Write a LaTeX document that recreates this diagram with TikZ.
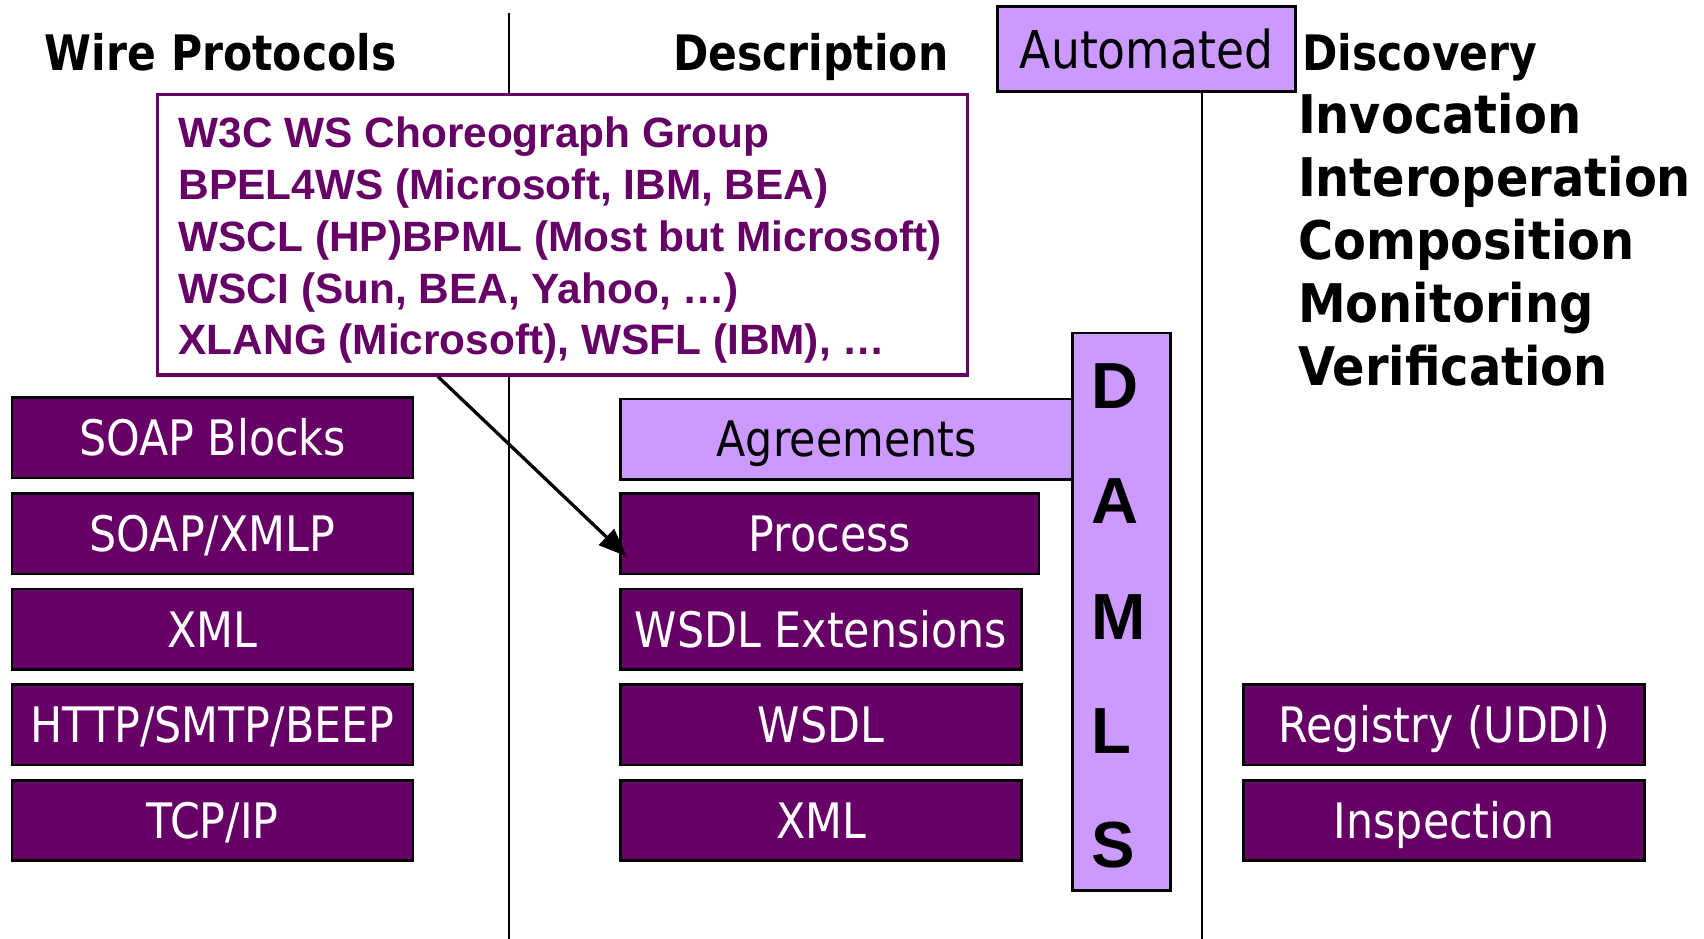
\documentclass[tikz,border=0pt]{standalone}
\usepackage{fontspec}
\setmainfont{Liberation Sans}
\newfontfamily\boxfont[FakeStretch=0.875]{DejaVu Sans}
\newfontfamily\headfont[FakeStretch=0.87]{DejaVu Sans}
\newfontfamily\bigheadfont[FakeStretch=0.9]{DejaVu Sans}
\usetikzlibrary{arrows.meta}
\definecolor{plum}{HTML}{660066}
\definecolor{lilac}{HTML}{CC99FF}
\tikzset{
  layer/.style={draw=black, line width=1.2pt, fill=plum, text=white, inner sep=0pt,
    font=\boxfont\fontsize{22.5pt}{27pt}\selectfont,
    minimum width=184.5pt, minimum height=37pt, text height=16.4pt, text depth=0pt},
  lilacbox/.style={layer, fill=lilac, text=black},
  head/.style={anchor=base west, inner sep=0pt, font=\headfont\bfseries\fontsize{22.5pt}{27pt}\selectfont},
  bighead/.style={head, font=\bigheadfont\bfseries\fontsize{24.5pt}{29pt}\selectfont},
  chor/.style={anchor=base west, inner sep=0pt, text=plum, font=\bfseries\fontsize{19.5pt}{23pt}\selectfont},
  letter/.style={anchor=base west, inner sep=0pt, font=\bfseries\fontsize{30pt}{36pt}\selectfont}
}
\begin{document}
\begin{tikzpicture}[x=0.5pt, y=-0.5pt]
    \useasboundingbox (0,0) rectangle (1568,864);
    % separators
    \coordinate (sepone) at (468,864);
    \coordinate (septwo) at (1106,864);
    \draw[line width=1pt] (468,12) -- (sepone);
    % headers
    \node[head] (wire) at (41,65) {Wire Protocols};
    \node[head] (descr) at (619,65) {Description};
    \node[lilacbox, minimum width=137pt, minimum height=39pt, text height=17.9pt,
          font=\boxfont\fontsize{24pt}{29pt}\selectfont] (auto) at (1055,45) {Automated};
    \node[head] (disc) at (1198,65) {Discovery};
    \node[bighead] (invoc) at (1194,123) {Invocation};
    \node[bighead] (interop) at (1194,181) {Interoperation};
    \node[bighead] (compos) at (1194,239) {Composition};
    \node[bighead] (monit) at (1194,297) {Monitoring};
    \node[bighead] (verif) at (1194,355) {Verification};
    \draw[line width=1pt] (septwo |- auto.south) -- (septwo);
    % choreography box
    \node[draw=plum, line width=1.5pt, fill=white, minimum width=372.5pt, minimum height=129pt] (wsbox) at (517.5,216) {};
    \node[chor] (w3c) at (164,136) {W3C WS Choreograph Group};
    \node[chor] (bpel) at (164,184) {BPEL4WS (Microsoft, IBM, BEA)};
    \node[chor] (wscl) at (164,231) {WSCL (HP)BPML (Most but Microsoft)};
    \node[chor] (wsci) at (164,279) {WSCI (Sun, BEA, Yahoo, \dots)};
    \node[chor] (xlang) at (164,326) {XLANG (Microsoft), WSFL (IBM), \dots};
    % wire protocols stack
    \node[layer] (soapblk) at (195.5,403) {SOAP Blocks};
    \node[layer] (soapxmlp) at (195.5,491) {SOAP/XMLP};
    \node[layer] (xmlleft) at (195.5,579) {XML};
    \node[layer] (http) at (195.5,667) {HTTP/SMTP/BEEP};
    \node[layer] (tcpip) at (195.5,755) {TCP/IP};
    % description stack
    \node[lilacbox, minimum width=208pt] (agree) at (779,404) {Agreements};
    \node[layer, minimum width=192.5pt] (process) at (763.5,491) {Process};
    \node[layer] (wsdlext) at (755.5,579) {WSDL Extensions};
    \node[layer] (wsdl) at (755.5,667) {WSDL};
    \node[layer] (xmlmid) at (755.5,755) {XML};
    % DAML-S column
    \node[lilacbox, minimum width=45pt, minimum height=256.5pt] (damls) at (1032,563) {};
    \node[letter] (ltrd) at (1004,376) {D};
    \node[letter] (ltra) at (1004,482) {A};
    \node[letter] (ltrm) at (1004,588) {M};
    \node[letter] (ltrl) at (1004,693) {L};
    \node[letter] (ltrs) at (1004,798) {S};
    % discovery stack
    \node[layer] (uddi) at (1329,667) {Registry (UDDI)};
    \node[layer] (inspect) at (1329,755) {Inspection};
    % arrow
    \draw[line width=1.5pt, -{Triangle[length=13pt,width=10pt]}]
        ([xshift=-57.25pt]wsbox.south) -- ([xshift=3.5pt,yshift=-10.5pt]process.west);
\end{tikzpicture}
\end{document}
